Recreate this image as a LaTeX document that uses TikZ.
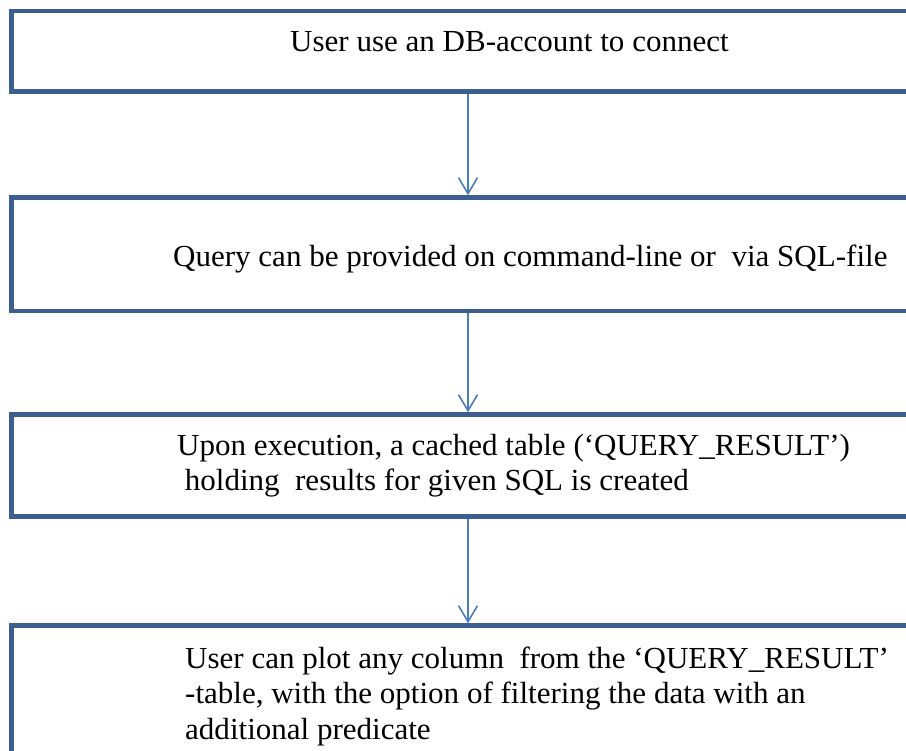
\documentclass[tikz,border=0pt]{standalone}
\usepackage{fontspec}
\setmainfont[FakeStretch=1.014]{Liberation Serif}
\usetikzlibrary{arrows.meta}
\definecolor{boxblue}{HTML}{3C5F8F}
\definecolor{arrowblue}{HTML}{4A7EBB}
\begin{document}
\begin{tikzpicture}[x=1pt,y=-1pt,>={Straight Barb[length=16pt,width=19pt]},
        flowbox/.style={draw=boxblue, line width=4.5pt, rectangle, minimum width=913pt, inner sep=0pt},
        flowtext/.style={anchor=base west, inner sep=0pt, align=left, font=\fontsize{30.6pt}{35.5pt}\selectfont},
        flowarrow/.style={->, draw=arrowblue, line width=1.6pt}]
        \useasboundingbox (0,0) rectangle (906,751);
        \clip (0,0) rectangle (906,751);
        % boxes (right side runs off the page)
        \node (connect) [flowbox, minimum height=80.5pt] at (468,51.25) {};
        \node (query) [flowbox, minimum height=113.5pt] at (468,254.25) {};
        \node (cache) [flowbox, minimum height=102pt] at (468,465.5) {};
        \node (plot) [flowbox, minimum height=175pt] at (468,713) {};
        % texts (base = last line)
        \node (connecttext) [flowtext] at (290,52) {User use an DB-account to connect};
        \node (querytext) [flowtext] at (173,267) {Query can be provided on command-line or \ via SQL-file};
        \node (cachetext) [flowtext] at (177,490.5) {Upon execution, a cached table (‘QUERY\_RESULT’)\\\hspace*{0.25em}holding \ results for given SQL is created};
        \node (plottext) [flowtext] at (185,739) {User can plot any column \ from the ‘QUERY\_RESULT’\\-table, with the option of filtering the data with an\\additional predicate};
        \draw[flowarrow] (connect) -- (query);
        \draw[flowarrow] (query) -- (cache);
        \draw[flowarrow] (cache) -- (plot);
    \end{tikzpicture}
\end{document}
